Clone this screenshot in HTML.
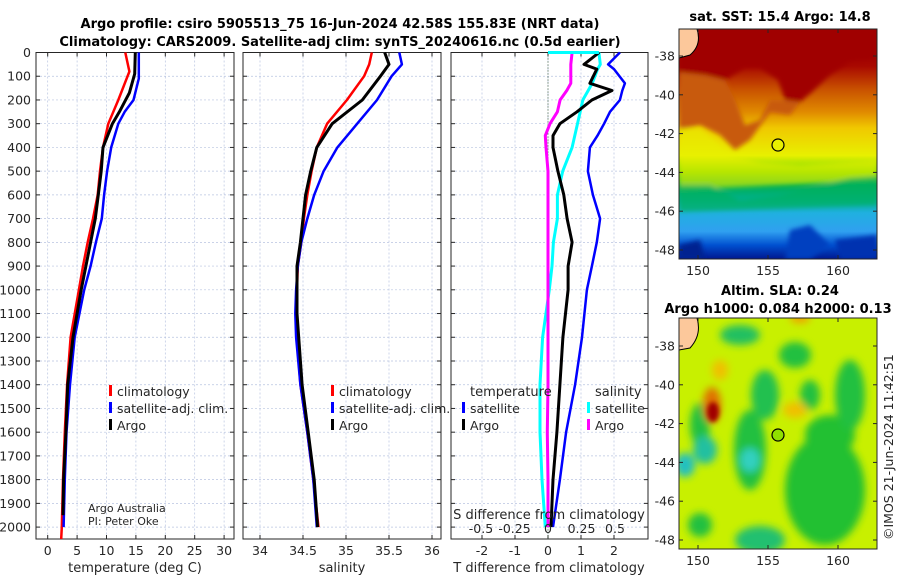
<!DOCTYPE html>
<html><head><meta charset="utf-8">
<style>
html,body{margin:0;padding:0;background:#fff;}
svg{display:block;font-family:"DejaVu Sans","Liberation Sans",sans-serif;}
.t{font-size:12.5px;fill:#262626;}
.ti{font-size:13px;font-weight:bold;fill:#000;}
</style></head>
<body>
<svg id="fig" width="900" height="580" viewBox="0 0 900 580" xmlns="http://www.w3.org/2000/svg">
<defs>
<linearGradient id="sstg" x1="0" y1="0" x2="0" y2="1">
<stop offset="0" stop-color="#a00000"/><stop offset="0.16" stop-color="#a80800"/>
<stop offset="0.26" stop-color="#c85000"/><stop offset="0.36" stop-color="#e08a00"/>
<stop offset="0.43" stop-color="#f0c800"/><stop offset="0.55" stop-color="#e8f000"/>
<stop offset="0.62" stop-color="#70d800"/><stop offset="0.68" stop-color="#00b050"/>
<stop offset="0.74" stop-color="#00b090"/><stop offset="0.80" stop-color="#20b0e0"/>
<stop offset="0.88" stop-color="#30a0f0"/><stop offset="0.94" stop-color="#0050d0"/>
<stop offset="1" stop-color="#001890"/>
</linearGradient>
<filter id="bl" x="-50%" y="-50%" width="200%" height="200%"><feGaussianBlur stdDeviation="4"/></filter>
<filter id="bl2" x="-50%" y="-50%" width="200%" height="200%"><feGaussianBlur stdDeviation="2.5"/></filter>
<clipPath id="c1"><rect x="679" y="29" width="198" height="230"/></clipPath>
<clipPath id="c2"><rect x="679" y="318" width="198" height="231"/></clipPath>
</defs>

<text class="ti" x="340" y="28" text-anchor="middle">Argo profile: csiro 5905513_75 16-Jun-2024 42.58S 155.83E (NRT data)</text>
<text class="ti" x="340" y="46" text-anchor="middle">Climatology: CARS2009. Satellite-adj clim: synTS_20240616.nc (0.5d earlier)</text>

<g id="p1"></g>
<g id="p2"></g>
<g id="p3"></g>

<!-- SST map -->
<g clip-path="url(#c1)">
<rect x="679" y="29" width="198" height="230" fill="url(#sstg)"/>
<g filter="url(#bl2)">
<path d="M679 29 L877 29 L877 60 L850 62 L830 75 L812 92 L800 102 L785 100 L778 80 L760 68 L745 68 L725 80 L705 75 L679 72Z" fill="#a00000"/>
<path d="M679 72 L705 75 L725 80 L735 100 L745 125 L760 120 L770 100 L785 100 L800 102 L790 115 L770 112 L750 140 L735 150 L720 135 L700 125 L679 130Z" fill="#c85a10"/>
<path d="M679 128 L700 128 L715 140 L730 155 L760 162 L800 165 L877 160 L877 180 L679 190Z" fill="#e8f000" opacity="0.6"/>
<path d="M679 185 L710 185 L740 200 L780 195 L820 185 L850 178 L877 176 L877 205 L679 212Z" fill="#00b060" opacity="0.7"/>
<path d="M790 230 L810 225 L830 245 L810 259 L785 259Z" fill="#0040c0"/>
<path d="M835 240 L877 235 L877 259 L840 259Z" fill="#0030b0"/>
<path d="M679 245 L700 240 L705 259 L679 259Z" fill="#002090"/>
</g>
<path d="M679 29 L697 29 Q702 45 690 55 L679 58Z" fill="#fcc89b" stroke="#000" stroke-width="1"/>
<circle cx="778" cy="145" r="6" fill="#e8f000" stroke="#000" stroke-width="1.2"/>
</g>
<rect x="679" y="29" width="198" height="230" fill="none" stroke="#262626" stroke-width="1"/>
<text class="ti" x="780" y="21" text-anchor="middle">sat. SST: 15.4 Argo: 14.8</text>

<!-- SLA map -->
<g clip-path="url(#c2)">
<rect x="679" y="318" width="198" height="231" fill="#c8f000"/>
<g filter="url(#bl)">
<ellipse cx="740" cy="335" rx="20" ry="10" fill="#20c060"/>
<ellipse cx="795" cy="355" rx="16" ry="13" fill="#20c040"/>
<ellipse cx="765" cy="395" rx="14" ry="25" fill="#20c050"/>
<ellipse cx="700" cy="425" rx="10" ry="22" fill="#20c040"/>
<ellipse cx="705" cy="450" rx="12" ry="14" fill="#20c0a0"/>
<ellipse cx="685" cy="465" rx="10" ry="12" fill="#20c0c0"/>
<ellipse cx="750" cy="450" rx="16" ry="40" fill="#20c040"/>
<ellipse cx="750" cy="460" rx="10" ry="12" fill="#30d0c0"/>
<ellipse cx="825" cy="490" rx="40" ry="55" fill="#20c030"/>
<ellipse cx="830" cy="435" rx="25" ry="20" fill="#20c030"/>
<ellipse cx="850" cy="395" rx="15" ry="35" fill="#20c040"/>
<ellipse cx="810" cy="395" rx="10" ry="15" fill="#20c040"/>
<ellipse cx="760" cy="540" rx="25" ry="14" fill="#20c070"/>
<ellipse cx="700" cy="525" rx="12" ry="12" fill="#20c040"/>
<ellipse cx="712" cy="405" rx="9" ry="18" fill="#e07000"/>
<ellipse cx="795" cy="410" rx="12" ry="8" fill="#f0c000"/>
<ellipse cx="720" cy="370" rx="8" ry="10" fill="#f0c000"/>
<ellipse cx="800" cy="318" rx="10" ry="5" fill="#f0a000"/>
</g>
<ellipse cx="713" cy="412" rx="6" ry="10" fill="#a00000" filter="url(#bl2)"/>
<path d="M679 318 L697 318 Q702 335 690 348 L679 350Z" fill="#fcc89b" stroke="#000" stroke-width="1"/>
<circle cx="778" cy="435" r="6" fill="#90e000" stroke="#000" stroke-width="1.2"/>
</g>
<rect x="679" y="318" width="198" height="231" fill="none" stroke="#262626" stroke-width="1"/>
<text class="ti" x="780" y="295" text-anchor="middle">Altim. SLA: 0.24</text>
<text class="ti" x="778" y="313" text-anchor="middle">Argo h1000: 0.084 h2000: 0.13</text>
<text class="t" transform="translate(893,540) rotate(-90)">©IMOS 21-Jun-2024 11:42:51</text>
<g id="maxes"></g>
</svg>
<script>
const depthsT = [0,80,200,300,400,500,600,700,800,900,1000,1200,1400,1600,1800,2000,2050];
const tempClim = [13.2,13.9,12.0,10.3,9.4,8.9,8.5,7.7,6.8,6.0,5.3,3.9,3.3,2.9,2.6,2.4,2.3];
const depthsB = [0,110,200,250,300,400,500,600,700,800,900,1000,1200,1400,1600,1800,2000];
const tempSat = [15.5,15.5,14.6,13.1,12.0,10.8,10.1,9.6,9.2,8.2,7.3,6.2,4.6,3.8,3.2,2.9,2.7];
const depthsA = [0,90,170,250,300,400,500,600,700,800,900,1000,1200,1400,1600,1800,1950];
const tempArgo = [14.9,14.8,13.9,12.2,11.0,9.4,9.1,8.6,8.1,7.3,6.5,5.7,4.3,3.4,3.1,2.7,2.6];
const depthsS = [0,50,100,200,300,400,500,600,700,800,900,1000,1100,1200,1400,1600,1800,2000];
const salClim = [35.30,35.27,35.21,35.01,34.78,34.66,34.60,34.55,34.51,34.48,34.44,34.43,34.42,34.43,34.47,34.55,34.62,34.68];
const salSat = [35.62,35.65,35.53,35.36,35.13,34.90,34.74,34.63,34.55,34.48,34.44,34.42,34.41,34.42,34.47,34.55,34.62,34.66];
const salArgo = [35.45,35.50,35.40,35.19,34.84,34.66,34.59,34.53,34.50,34.47,34.43,34.43,34.43,34.45,34.49,34.56,34.63,34.67];
const depthsD = [0,50,70,130,160,200,250,300,350,400,500,600,700,800,900,1000,1200,1400,1600,1800,2000];
const dTSat = [2.18,1.82,2.0,2.33,2.25,2.18,1.88,1.70,1.5,1.27,1.21,1.36,1.58,1.48,1.33,1.18,1.03,0.82,0.55,0.36,0.15];
const dTArgo = [1.55,1.09,1.48,1.27,1.94,1.33,0.88,0.36,0.15,0.15,0.30,0.48,0.58,0.73,0.61,0.61,0.45,0.36,0.27,0.15,0.09];
const dSSat = [0.38,0.39,0.37,0.33,0.30,0.26,0.24,0.22,0.20,0.18,0.11,0.07,0.07,0.04,0.03,0.01,-0.04,-0.06,-0.06,-0.045,-0.02];
const dSArgo = [0.18,0.17,0.17,0.17,0.14,0.09,0.07,0.015,-0.02,-0.015,0,0,0,0,0,0,0,0,-0.005,0,0];
const tTicks = [0,5,10,15,20,25,30];
const sTicks = [34,34.5,35,35.5,36];
const dtTicks = [-2,-1,0,1,2];
const dsTicks = [-0.5,-0.25,0,0.25,0.5];
const depthTicks = [0,100,200,300,400,500,600,700,800,900,1000,1100,1200,1300,1400,1500,1600,1700,1800,1900,2000];
const latTicks = [-38,-40,-42,-44,-46,-48];
const lonTicks = [150,155,160];

const NS='http://www.w3.org/2000/svg';
function mk(tag,attrs,parent,txt){const e=document.createElementNS(NS,tag);for(const k in attrs)e.setAttribute(k,attrs[k]);if(txt!==undefined)e.textContent=txt;parent.appendChild(e);return e;}
const Y0=52.5, Y1=539;
const yD = d => 52.5 + d*0.2373;

function panel(g,x0,x1,xf,ticks,fmt,showY){
  depthTicks.forEach(d=>{
    const l=mk('line',{x1:x0,x2:x1,y1:yD(d),y2:yD(d),stroke:'#b8c4e0','stroke-width':0.7,'stroke-dasharray':'2,2'},g);
    
    
    mk('line',{x1:x0,x2:x0+4,y1:yD(d),y2:yD(d),stroke:'#262626'},g);
    mk('line',{x1:x1,x2:x1-4,y1:yD(d),y2:yD(d),stroke:'#262626'},g);
    if(showY){
      const t=mk('text',{x:x0-5,y:yD(d)+4.5,'text-anchor':'end',class:'t'},g,String(d));
      
      
    }
  });
  ticks.forEach(v=>{
    const x=xf(v);
    const l=mk('line',{x1:x,x2:x,y1:Y0,y2:Y1,stroke:'#b8c4e0','stroke-width':0.7,'stroke-dasharray':'2,2'},g);
    
    
    mk('line',{x1:x,x2:x,y1:Y1,y2:Y1-4,stroke:'#262626'},g);
    mk('line',{x1:x,x2:x,y1:Y0,y2:Y0+4,stroke:'#262626'},g);
    if(fmt){
      const t=mk('text',{x:x,y:555,'text-anchor':'middle',class:'t'},g,fmt(v));
      
      
    }
  });
  const r=mk('rect',{x:x0,y:Y0,width:x1-x0,height:Y1-Y0,fill:'none',stroke:'#262626','stroke-width':1},g);
  
  
}
function line(g,xf,xs,ds,color,name,w){
  const pts=xs.map((v,i)=>xf(v).toFixed(1)+','+yD(ds[i]).toFixed(1)).join(' ');
  const p=mk('polyline',{points:pts,fill:'none',stroke:color,'stroke-width':w||2.5,'stroke-linejoin':'round'},g);
  
  
}
function legend(g,x,y,color,label){
  const r=mk('rect',{x:x,y:y-11,width:3,height:11,fill:color},g);
  
  
  const t=mk('text',{x:x+8,y:y,class:'t'},g,label);
  
  
}

const g1=document.getElementById('p1');
const xT=v=>47.7+v*5.88;
panel(g1,36,234,xT,tTicks,v=>String(v),true);
line(g1,xT,tempClim,depthsT,'#ff0000','temp-climatology-line');
line(g1,xT,tempSat,depthsB,'#0000ff','temp-satellite-line');
line(g1,xT,tempArgo,depthsA,'#000000','temp-argo-line',3);
legend(g1,109,396,'#ff0000','climatology');
legend(g1,109,413,'#0000ff','satellite-adj. clim.');
legend(g1,109,430,'#000000','Argo');
mk('text',{x:88,y:512,class:'t'},g1,'Argo Australia').setAttribute('style','font-size:11px');
mk('text',{x:88,y:525,class:'t'},g1,'PI: Peter Oke').setAttribute('style','font-size:11px');
mk('text',{x:135,y:572,'text-anchor':'middle',class:'t'},g1,'temperature (deg C)').setAttribute('style','font-size:13px');

const g2=document.getElementById('p2');
const xS=v=>260+(v-34)*86;
panel(g2,243,441,xS,sTicks,v=>String(v),false);
line(g2,xS,salClim,depthsS,'#ff0000','sal-climatology-line');
line(g2,xS,salSat,depthsS,'#0000ff','sal-satellite-line');
line(g2,xS,salArgo,depthsS,'#000000','sal-argo-line',3);
legend(g2,331,396,'#ff0000','climatology');
legend(g2,331,413,'#0000ff','satellite-adj. clim.');
legend(g2,331,430,'#000000','Argo');
mk('text',{x:342,y:572,'text-anchor':'middle',class:'t'},g2,'salinity').setAttribute('style','font-size:13px');

const g3=document.getElementById('p3');
const xDT=v=>548+v*33;
const xDS=v=>548+v*134;
panel(g3,451,648,xDT,dtTicks,v=>String(v),false);
mk('line',{x1:548,x2:548,y1:Y0,y2:Y1,stroke:'#3a5a3a','stroke-width':1,'stroke-dasharray':'1,2'},g3);
line(g3,xDT,dTSat,depthsD,'#0000ff','dT-satellite-line');
line(g3,xDS,dSSat,depthsD,'#00ffff','dS-satellite-line',3);
line(g3,xDS,dSArgo,depthsD,'#ff00ff','dS-argo-line',3);
line(g3,xDT,dTArgo,depthsD,'#000000','dT-argo-line',3);
mk('line',{x1:548,x2:xDS(dSSat[0]),y1:Y0,y2:Y0,stroke:'#00ffff','stroke-width':3},g3);
mk('text',{x:470,y:396,class:'t'},g3,'temperature').setAttribute('style','font-size:13px');
mk('text',{x:595,y:396,class:'t'},g3,'salinity').setAttribute('style','font-size:13px');
legend(g3,462,413,'#0000ff','satellite');
legend(g3,462,430,'#000000','Argo');
legend(g3,587,413,'#00ffff','satellite');
legend(g3,587,430,'#ff00ff','Argo');
dsTicks.forEach(v=>{
  const t=mk('text',{x:xDS(v),y:533,'text-anchor':'middle',class:'t'},g3,String(v));
  
  
});
mk('text',{x:549,y:519,'text-anchor':'middle',class:'t'},g3,'S difference from climatology').setAttribute('style','font-size:13px');
mk('text',{x:549,y:572,'text-anchor':'middle',class:'t'},g3,'T difference from climatology').setAttribute('style','font-size:13px');

const gm=document.getElementById('maxes');
[[29,259,56],[318,549,346]].forEach(([top,bot,y38])=>{
  const latY=v=> y38 + (-38 - v)*19.4;
  latTicks.forEach(v=>{
    const y=latY(v);
    mk('line',{x1:679,x2:683,y1:y,y2:y,stroke:'#262626'},gm);
    mk('line',{x1:877,x2:873,y1:y,y2:y,stroke:'#262626'},gm);
    const t=mk('text',{x:675,y:y+4.5,'text-anchor':'end',class:'t'},gm,String(v));
    
    
  });
  lonTicks.forEach(v=>{
    const x=698+(v-150)*14;
    mk('line',{x1:x,x2:x,y1:bot,y2:bot-4,stroke:'#262626'},gm);
    mk('line',{x1:x,x2:x,y1:top,y2:top+4,stroke:'#262626'},gm);
    const t=mk('text',{x:x,y:bot+16,'text-anchor':'middle',class:'t'},gm,String(v));
    
    
  });
});
</script>
</body></html>
